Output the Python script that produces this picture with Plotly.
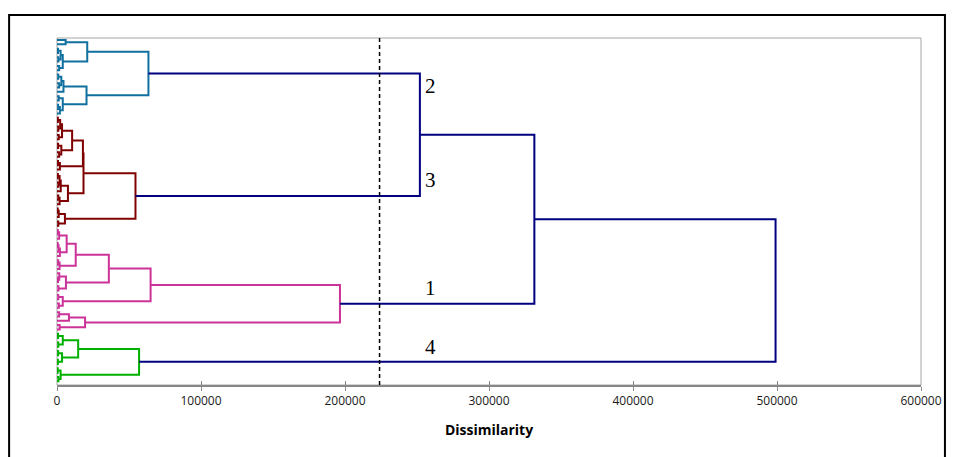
import plotly.graph_objects as go

# ---------------- data ----------------
n_leaves = 80

# linkage: merge k creates node id n_leaves + k from children link_a[k], link_b[k]
link_a = [0, 2, 4, 81, 6, 83, 80, 8, 10, 87, 89, 13, 15, 92, 91, 90, 86,
          18, 20, 97, 22, 99, 24, 26, 102, 101, 28, 106, 105, 31, 33, 109, 111, 36, 113, 112, 108, 39, 117, 42, 118, 116,
          44, 122, 47, 124, 125, 123, 51, 128, 127, 55, 54, 57, 132, 130, 59, 61, 136, 135, 63, 140, 66, 141, 139,
          68, 70, 145, 72, 74, 148, 147, 76, 78, 152, 151,
          96, 156, 157]
link_b = [1, 3, 5, 82, 7, 84, 85, 9, 11, 88, 12, 14, 16, 17, 93, 94, 95,
          19, 21, 98, 23, 100, 25, 27, 103, 104, 29, 30, 107, 32, 34, 110, 35, 37, 38, 114, 115, 40, 41, 43, 119, 120,
          45, 46, 48, 49, 50, 126, 52, 53, 129, 56, 131, 58, 133, 134, 60, 62, 137, 138, 64, 65, 67, 142, 143,
          69, 71, 146, 73, 75, 149, 150, 77, 79, 153, 154,
          121, 144, 155]
link_h = [6000, 700, 1000, 2500, 1500, 4000, 21000, 900, 1500, 3000, 4500, 1200, 800, 2000, 4000, 20500, 63500,
          600, 900, 2200, 1200, 3500, 800, 1500, 3000, 10500, 700, 2000, 18000, 600, 1000, 1800, 2600, 900, 1800, 7600, 18400, 500, 1200, 900, 5500, 54500,
          600, 1500, 500, 1100, 2000, 6700, 800, 1800, 13000, 700, 1600, 1000, 6200, 36000, 900, 1300, 4000, 65000, 1500, 8300, 1800, 19500, 196500,
          700, 900, 4000, 800, 600, 3500, 14700, 500, 1000, 2500, 57000,
          252000, 331500, 499000]

cluster_roots = [96, 121, 144, 155]
cluster_names = ["2", "3", "1", "4"]
cut_level = 224000

x_tick_values = [0, 100000, 200000, 300000, 400000, 500000, 600000]
x_tick_labels = ["0", "100000", "200000", "300000", "400000", "500000", "600000"]
x_title = "Dissimilarity"

# ---------------- styling ----------------
cluster_colors = ["#10709F", "#7F0000", "#CC3399", "#00B000"]
upper_color = "#000080"
label_pos = [(259500, 10.6), (259500, 32.4), (259500, 57.4), (259500, 71.1)]

# ---------------- geometry from linkage ----------------
ypos = {i: float(i) for i in range(n_leaves)}
xpos = {i: 0.0 for i in range(n_leaves)}
for k, (a, b, h) in enumerate(zip(link_a, link_b, link_h)):
    node = n_leaves + k
    ypos[node] = (ypos[a] + ypos[b]) / 2.0
    xpos[node] = float(h)

color_of = {}


def mark(node, c):
    if node < n_leaves:
        return
    color_of[node] = c
    k = node - n_leaves
    mark(link_a[k], c)
    mark(link_b[k], c)


for r, c in zip(cluster_roots, cluster_colors):
    mark(r, c)

segs = {c: ([], []) for c in cluster_colors + [upper_color]}
for k, (a, b, h) in enumerate(zip(link_a, link_b, link_h)):
    node = n_leaves + k
    c = color_of.get(node, upper_color)
    xs, ys = segs[c]
    xs += [xpos[a], h, h, xpos[b], None]
    ys += [ypos[a], ypos[a], ypos[b], ypos[b], None]

fig = go.Figure()
for c in cluster_colors + [upper_color]:
    xs, ys = segs[c]
    fig.add_trace(go.Scatter(x=xs, y=ys, mode="lines",
                             line=dict(color=c, width=2),
                             hoverinfo="skip", showlegend=False))

# invisible trace for the inner tick axis
fig.add_trace(go.Scatter(x=[0, 600000], y=[0, 0], xaxis="x2", mode="lines",
                         line=dict(width=0), opacity=0, hoverinfo="skip", showlegend=False))

W, H = 954, 457
ml, mr, mt, mb = 57, 31, 38, 72
pw, ph = W - ml - mr, H - mt - mb

fig.update_layout(
    width=W, height=H,
    margin=dict(l=ml, r=mr, t=mt, b=mb),
    paper_bgcolor="white", plot_bgcolor="white",
    font=dict(family="Open Sans", size=13, color="#1a1a1a"),
    xaxis=dict(range=[0, 600000], tickvals=x_tick_values, ticktext=x_tick_labels,
               showgrid=False, zeroline=False, showline=True, linecolor="#878787", linewidth=2,
               ticks="outside", ticklen=4, tickcolor="#878787", tickwidth=1,
               tickfont=dict(family="Open Sans", size=12, color="#1a1a1a"),
               title=dict(text="<b>" + x_title + "</b>", font=dict(family="Open Sans", size=14, color="black"),
                          standoff=17)),
    xaxis2=dict(range=[0, 600000], overlaying="x", matches="x", side="bottom",
                tickvals=x_tick_values, showticklabels=False, showgrid=False, zeroline=False,
                showline=False, ticks="inside", ticklen=4, tickcolor="#878787", tickwidth=1),
    yaxis=dict(range=[79.86, -0.46], visible=False, showgrid=False, zeroline=False),
)


def px_x(p):
    return (p - ml) / pw


def px_y(p):
    return (H - mb - p) / ph


shapes = []
# plot area border
shapes.append(dict(type="rect", xref="paper", yref="paper", x0=0, x1=1, y0=0, y1=1,
                   line=dict(color="#A6A6A6", width=1), layer="below"))
# outer chart frame
shapes.append(dict(type="rect", xref="paper", yref="paper",
                   x0=px_x(9), x1=px_x(947), y0=px_y(480), y1=px_y(15),
                   line=dict(color="black", width=2)))
# cut level
shapes.append(dict(type="line", xref="x", yref="paper", x0=cut_level, x1=cut_level, y0=0, y1=1,
                   line=dict(color="black", width=1.5, dash="4px,3px")))
fig.update_layout(shapes=shapes)

for name, (lx, ly) in zip(cluster_names, label_pos):
    fig.add_annotation(x=lx, y=ly, xref="x", yref="y", text=name, showarrow=False,
                       font=dict(family="Liberation Serif", size=21, color="black"))

fig.write_html("out.html", config={"displayModeBar": False},
               post_script="document.body.style.margin='0';document.body.style.overflow='hidden';")
